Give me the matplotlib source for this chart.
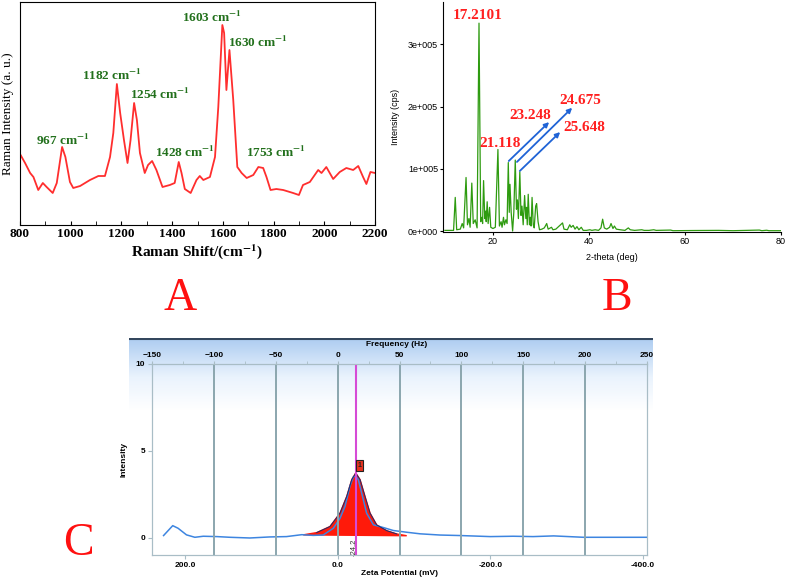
import numpy as np
import matplotlib.pyplot as plt
from matplotlib.colors import LinearSegmentedColormap

plt.rcParams['font.serif'] = ['Liberation Serif', 'DejaVu Serif']
plt.rcParams['font.sans-serif'] = ['Liberation Sans', 'DejaVu Sans']
plt.rcParams['mathtext.fontset'] = 'stix'

# ---- A: Raman spectrum (arbitrary units) ----
raman_shift = [800, 820, 840, 853, 872, 890, 905, 929, 945, 966, 979, 997, 1010,
               1037, 1076, 1109, 1135, 1155, 1168, 1182, 1195, 1210, 1224, 1236,
               1250, 1261, 1273, 1292, 1305, 1321, 1338, 1362, 1391, 1410, 1426,
               1437, 1450, 1473, 1496, 1509, 1523, 1549, 1569, 1582, 1598, 1605,
               1614, 1626, 1641, 1657, 1674, 1694, 1720, 1740, 1759, 1772, 1788,
               1811, 1838, 1877, 1900, 1916, 1943, 1976, 1989, 2008, 2035, 2061,
               2087, 2114, 2134, 2153, 2166, 2182, 2200]
raman_int = [71, 62, 52, 48, 35, 42, 38, 32, 42, 78, 68, 43, 37,
             39, 45, 49, 49, 68, 92, 141, 112, 85, 62, 85,
             122, 105, 72, 52, 60, 64, 55, 38, 40, 42, 63,
             52, 36, 32, 45, 49, 45, 48, 68, 118, 200, 192,
             135, 175, 125, 58, 52, 47, 50, 58, 57, 48, 35,
             36, 35, 32, 30, 40, 43, 55, 52, 58, 46, 53,
             57, 55, 59, 48, 41, 53, 52]
raman_labels = ['967', '1182', '1254', '1428', '1603', '1630', '1753']
raman_label_xy = [(970, 85), (1163, 150), (1352, 131), (1451, 73),
                  (1557, 208), (1738, 183), (1809, 73)]

# ---- B: XRD pattern ----
xrd_theta = [10.0, 11.8, 12.15, 12.45, 13.2, 13.6, 13.9, 14.4, 14.7, 15.0, 15.25,
             15.6, 15.9, 16.3, 16.7, 17.1, 17.45, 17.7, 17.85, 18.05, 18.3, 18.5,
             18.6, 18.8, 19.0, 19.3, 19.55, 20.0, 20.5, 21.04, 21.35, 21.7, 21.9,
             22.2, 22.4, 22.7, 22.95, 23.2, 23.4, 23.55, 23.8, 24.1, 24.35, 24.65,
             24.9, 25.1, 25.3, 25.6, 25.85, 26.05, 26.3, 26.6, 26.85, 27.0, 27.15,
             27.35, 27.6, 27.8, 27.95, 28.15, 28.4, 28.6, 28.9, 29.1, 29.4, 29.7,
             30.2, 30.7, 31.2, 31.5, 32.2, 32.5, 33.1, 34.5, 34.8, 35.5, 36.0,
             36.3, 36.7, 37.1, 37.5, 37.9, 38.4, 38.8, 39.5, 40.2, 40.6, 41.3,
             42.0, 42.5, 42.85, 43.2, 43.7, 44.3, 44.6, 45.0, 45.3, 45.7, 46.5,
             47.5, 48.2, 48.6, 49.5, 51.0, 51.5, 52.5, 53.5, 54.0, 57.0, 57.5,
             62.0, 67.0, 70.0, 75.5, 76.0, 77.0, 77.5, 80.0]
xrd_cps = [1000, 1000, 54000, 2000, 3000, 12000, 5000, 86000, 10000, 20000, 6000,
           77000, 12000, 18000, 5000, 334000, 15000, 22000, 12000, 81000, 20000, 32000,
           15000, 47000, 12000, 38000, 6000, 4000, 6000, 131000, 8000, 15000, 6000,
           22000, 10000, 18000, 12000, 110000, 30000, 75000, 30000, 0, 30000, 114000,
           35000, 50000, 20000, 95000, 25000, 40000, 10000, 57000, 20000, 38000, 10000,
           59000, 10000, 22000, 8000, 54000, 10000, 5000, 40000, 44000, 15000, 2000,
           3000, 5000, 12000, 3000, 6000, 2000, 3000, 13000, 3000, 2000, 10000,
           6000, 9000, 3000, 7000, 2000, 6000, 1000, 1000, 2000, 1000, 2000,
           1000, 5000, 19000, 5000, 3000, 6000, 12000, 4000, 8000, 3000, 2000,
           1000, 5000, 2000, 1000, 2000, 1000, 1000, 2000, 1000, 1500, 500,
           800, 1000, 500, 1500, 500, 1200, 500, 500]
xrd_yticks = [0, 100000, 200000, 300000]
xrd_yticklabels = ['0e+000', '1e+005', '2e+005', '3e+005']
xrd_labels = ['17.2101', '21.118', '23.248', '24.675', '25.648']
xrd_label_xy = [(16.9, 346000), (21.5, 141000), (27.7, 185000), (38.3, 210000), (39.1, 166000)]
xrd_arrows = [((23.3, 112500), (31.7, 175000)),
              ((25.0, 111000), (36.5, 198000)),
              ((25.6, 96500), (34.0, 159000))]

# ---- C: zeta potential distribution ----
zeta_mv = [228, 216, 209, 198, 187, 176, 158, 141, 115, 89, 67, 47, 32, 19, 5.6,
           -3, -9.7, -16, -20.6, -23.7, -27, -31.6, -38, -46.8, -60, -73, -90.6,
           -108, -134, -161, -200, -230, -256, -283, -322, -366, -405]
zeta_int = [0.12, 0.69, 0.54, 0.16, 0.02, 0.08, 0.06, 0.02, -0.02, 0.04, 0.06, 0.17,
            0.13, 0.15, 0.54, 1.1, 1.8, 2.95, 3.5, 3.55, 3.35, 2.55, 1.4, 0.74, 0.58,
            0.41, 0.31, 0.22, 0.15, 0.12, 0.06, 0.08, 0.06, 0.1, 0.02, 0.02, 0.02]
peak_mv = [45, 27.4, 10, -3.1, -11.9, -18.5, -23.7, -29.4, -35.9, -42.5, -51.2,
           -64.3, -77.5, -90.5]
peak_int = [0.16, 0.29, 0.64, 1.41, 2.37, 3.34, 3.72, 3.34, 2.37, 1.41, 0.73,
            0.40, 0.21, 0.11]
zeta_mean = -24.2
mv_per_hz = -1.621
freq_ticks = [-150, -100, -50, 0, 50, 100, 150, 200, 250]
zeta_ticks = [200, 0, -200, -400]
zeta_ticklabels = ['200.0', '0.0', '-200.0', '-400.0']

W, H = 787, 578
fig = plt.figure(figsize=(W / 100, H / 100), dpi=100)


def box(l, t, r, b):
    return [l / W, 1 - b / H, (r - l) / W, (b - t) / H]


# ---------- A ----------
axA = fig.add_axes(box(20, 2, 375, 225))
axA.plot(raman_shift, raman_int, color='#ff2e2e', lw=1.3)
axA.set_xlim(800, 2200)
axA.set_ylim(0, 223)
axA.set_yticks([])
axA.set_xticks(range(800, 2201, 200))
axA.set_xticks(range(900, 2200, 200), minor=True)
axA.tick_params(axis='x', which='both', direction='in', length=3, pad=2)
for lab in axA.get_xticklabels():
    lab.set_fontfamily('serif')
    lab.set_fontweight('bold')
    lab.set_fontsize(9.5)
axA.set_xlabel(r'Raman Shift/(cm$^{\mathbf{-1}}$)', family='serif',
               weight='bold', fontsize=11, labelpad=2)
axA.set_ylabel('Raman Intensity (a. u.)', family='serif', fontsize=9.5, labelpad=4)
for lab, (x, y) in zip(raman_labels, raman_label_xy):
    axA.text(x, y, lab + r' cm$^{\mathbf{-1}}$', ha='center', va='center',
             family='serif', weight='bold', fontsize=9.5, color='#22701c')

# ---------- B ----------
axB = fig.add_axes(box(443, 2, 781, 232))
axB.plot(xrd_theta, xrd_cps, color='#2e9b10', lw=0.9)
axB.set_xlim(9.6, 80)
axB.set_ylim(-1600, 368000)
axB.spines['top'].set_visible(False)
axB.spines['right'].set_visible(False)
axB.set_xticks([20, 40, 60, 80])
axB.set_yticks(xrd_yticks)
axB.set_yticklabels(xrd_yticklabels)
axB.tick_params(labelsize=6.5, length=2.5, pad=1)
axB.set_xlabel('2-theta (deg)', fontsize=6.5, labelpad=5)
axB.set_ylabel('Intensity (cps)', fontsize=6.5, labelpad=6)
for (p0, p1) in xrd_arrows:
    axB.annotate('', xy=p1, xytext=p0,
                 arrowprops=dict(arrowstyle='-|>', color='#1f63d6', lw=1.3,
                                 mutation_scale=7, shrinkA=0, shrinkB=0))
for lab, (x, y) in zip(xrd_labels, xrd_label_xy):
    axB.text(x, y, lab, ha='center', va='center', family='serif',
             weight='bold', fontsize=11, color='#ff2020')

# ---------- C ----------
bg = fig.add_axes(box(129, 338, 653, 578), zorder=0)
grad = np.linspace(1, 0, 240).reshape(-1, 1)
cmap = LinearSegmentedColormap.from_list(
    'hdr', [(0, '#ffffff'), (0.70, '#ffffff'), (0.84, '#eaf3fd'), (1, '#aecdf1')])
bg.imshow(grad, aspect='auto', extent=[0, 1, 0, 1], cmap=cmap, vmin=0, vmax=1)
bg.axhline(0.996, color='#34475e', lw=1.5)
bg.set_xlim(0, 1)
bg.set_ylim(0, 1)
bg.axis('off')

axC = fig.add_axes(box(152, 364, 647, 555), zorder=1)
axC.set_facecolor('none')
axC.set_xlim(-150 * mv_per_hz, 250 * mv_per_hz)
axC.set_ylim(-1, 10)
for s in axC.spines.values():
    s.set_color('#a9bdc6')

axF = axC.twiny()
axF.set_xlim(-150, 250)
axF.set_xticks(freq_ticks)
axF.set_xticks(range(-125, 250, 50), minor=True)
axF.tick_params(axis='x', which='both', length=2.5, color='#a9bdc6',
                labelsize=6, pad=1)
for lab in axF.get_xticklabels():
    lab.set_fontweight('bold')
for f in freq_ticks[1:-1]:
    axF.axvline(f, color='#8ba6ae', lw=1.4, zorder=0)
axF.set_xlabel('Frequency (Hz)', fontsize=6, weight='bold')
axF.xaxis.set_label_coords(0.495, 1.095)
for s in axF.spines.values():
    s.set_color('#a9bdc6')

axC.fill(peak_mv, peak_int, color='#ff1a0a', zorder=2)
axC.plot(zeta_mv, zeta_int, color='#3d85e0', lw=1.1, zorder=3)
axC.plot(peak_mv[1:-1], peak_int[1:-1], color='#1c2c6e', lw=0.7, zorder=4)
axC.axvline(zeta_mean, color='#d64bd6', lw=1.5, zorder=5)
axC.text(zeta_mean + 3, -0.05, str(zeta_mean), rotation=90, ha='center', va='top',
         fontsize=5.5, color='#333333', zorder=6)
axC.text(zeta_mean - 4.5, 4.15, '1', ha='center', va='center', fontsize=5,
         color='#222222', weight='bold', zorder=6,
         bbox=dict(boxstyle='square,pad=0.25', fc='#e8321e', ec='#222222', lw=0.8))

axC.set_xticks(zeta_ticks)
axC.set_xticklabels(zeta_ticklabels)
axC.set_yticks([0, 5, 10])
axC.tick_params(axis='both', length=3, color='#a9bdc6', labelsize=6, pad=2)
for lab in axC.get_xticklabels() + axC.get_yticklabels():
    lab.set_fontweight('bold')
axC.set_xlabel('Zeta Potential (mV)', fontsize=6, weight='bold', labelpad=1)
axC.set_ylabel('Intensity', fontsize=6, weight='bold', labelpad=6)

# panel letters
for letter, (x, y) in zip(['A', 'B', 'C'], [(180, 310), (617, 310), (78, 555)]):
    fig.text(x / W, 1 - y / H, letter, ha='center', va='baseline',
             family='serif', fontsize=33, color='#ff1010')

fig.savefig('out.png', dpi=100)
